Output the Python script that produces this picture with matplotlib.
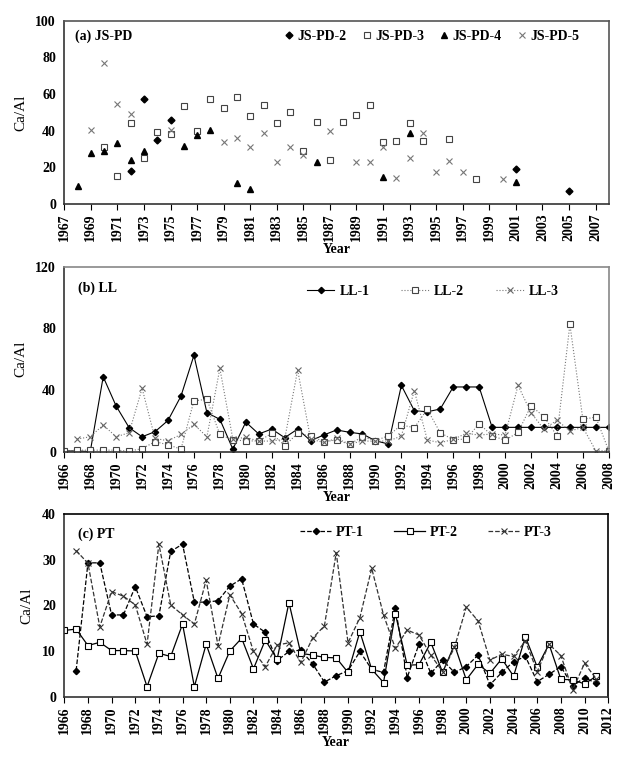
import numpy as np
import matplotlib
matplotlib.use("Agg")
import matplotlib.pyplot as plt

plt.rcParams['font.family'] = ['Liberation Serif', 'DejaVu Serif']
plt.rcParams['font.size'] = 10

nan = np.nan

# (a) JS-PD scatter series
pd2_years = [1972, 1973, 1974, 1975, 2001, 2005]
pd2_vals = [18, 57.3, 34.7, 45.6, 19, 7.3]

pd3_years = [1970, 1971, 1972, 1973, 1974, 1975, 1976, 1977, 1978, 1979,
             1980, 1981, 1982, 1983, 1984, 1985, 1986, 1987, 1988, 1989,
             1990, 1991, 1992, 1993, 1994, 1996, 1998]
pd3_vals = [31.3, 15.5, 44.4, 25.1, 39.5, 38.2, 53.6, 40, 57.3, 52.2,
            58.5, 48.2, 54.2, 44.4, 50.4, 28.7, 44.9, 23.8, 44.5, 48.4,
            54.2, 33.6, 34.2, 44.2, 34.4, 35.6, 13.5]

pd4_years = [1968, 1969, 1970, 1971, 1972, 1973, 1976, 1977, 1978, 1980,
             1981, 1986, 1991, 1993, 2001]
pd4_vals = [10, 27.6, 29.1, 33.3, 23.8, 28.7, 31.5, 37.5, 40.2, 11.6,
            8.2, 22.9, 14.5, 38.9, 12.2]

pd5_years = [1969, 1970, 1971, 1972, 1975, 1979, 1980, 1981, 1982, 1983,
             1984, 1985, 1987, 1989, 1990, 1991, 1992, 1993, 1994, 1995,
             1996, 1997, 2000]
pd5_vals = [40.4, 76.7, 54.5, 48.9, 40.4, 34, 36, 31.3, 38.9, 22.9,
            31.3, 26.7, 39.6, 22.9, 22.9, 31.3, 14.2, 25.3, 38.9, 17.3,
            23.3, 17.6, 13.8]

# (b) LL series, 1966-2008
ll_years = list(range(1966, 2009))
ll1 = [0.5, 0.5, 0, 48.6, 29.6, 15.6, 9.7, 13, 20.3, 36.1,
       62.5, 25.3, 21, 1.7, 19.2, 11.5, 14.7, 9.1, 14.7, 7.1,
       10.8, 14.1, 12.6, 11.5, 7.1, 5, 43, 26.6, 25.9, 27.7,
       42, 42, 42, 15.8, 15.8, 15.8, 15.8, 15.8, 15.8, 15.8,
       15.8, 15.8, 15.8]
ll2 = [0.5, 1, 1, 1, 1, 0.4, 2, 6.5, 4.5, 1.7,
       33, 34, 11.2, 7.6, 7.1, 6.9, 11.9, 3.9, 11.9, 10.4,
       6.5, 7.6, 4.8, 9.7, 7.1, 10.4, 17.3, 15.6, 27.5, 12.3,
       7.8, 8.2, 18.2, 10.4, 7.4, 12.5, 29.8, 22.7, 10.4, 82.6,
       21, 22.5, 0.6]
ll3 = [nan, 8.2, 9.7, 17.3, 9.7, 12.3, 41.1, 8.6, 7.1, 11.2,
       17.7, 9.7, 54, 8.2, 9.3, 6.9, 6.9, 8.2, 53, 8.2,
       6, 8.6, 5, 6.9, 6.9, 6.9, 10.2, 39.6, 7.6, 5.8,
       8, 11.9, 10.8, 11.5, 10.8, 43, 25.3, 14.5, 20.5, 13.4,
       15.8, 0.6, 0.6]

# (c) PT series, 1966-2011
pt_years = list(range(1966, 2012))
pt1 = [nan, 5.7, 29.3, 29.3, 17.9, 17.9, 24.1, 17.5, 17.7, 31.8,
       33.4, 20.7, 20.7, 21, 24.2, 25.8, 15.9, 14.1, 7.9, 9.9,
       10.2, 7.2, 3.2, 4.6, 5.7, 9.9, 6, 5.3, 19.5, 4.2,
       11.5, 5.1, 8, 5.3, 6.6, 9.1, 2.6, 5.3, 7.7, 8.8,
       3.3, 4.9, 6.6, 2.3, 4.2, 2.9]
pt2 = [14.5, 14.8, 11.2, 11.9, 10.1, 10.1, 10, 2.2, 9.5, 8.8,
       15.9, 2.2, 11.5, 4, 10, 12.8, 6.1, 12.4, 8.2, 20.6,
       9.5, 9.1, 8.6, 8.5, 5.3, 14.2, 6, 3.1, 18.2, 6.9,
       7, 11.9, 5.3, 11.4, 3.7, 7.1, 5.1, 8.3, 4.5, 13.1,
       6.5, 11.5, 3.8, 3.7, 2.8, 4.5]
pt3 = [nan, 32, 29.2, 15.3, 23, 22, 20.1, 11.5, 33.4, 20.1,
       17.9, 15.9, 25.5, 11.2, 22.3, 18.2, 9.9, 6.6, 11.3, 11.8,
       7.5, 12.8, 15.5, 31.5, 11.8, 17.3, 28.1, 17.9, 10.6, 14.6,
       13.5, 9.1, 5.5, 10.8, 19.6, 16.6, 8, 9.3, 8.8, 12.2,
       5.5, 11.5, 9, 1.5, 7.3, 3.9]


def style_axes(ax, xlim, xticks, ylim, yticks, spine_color):
    ax.set_xlim(*xlim)
    ax.set_ylim(*ylim)
    ax.set_xticks(xticks)
    ax.set_xticklabels([str(t) for t in xticks], rotation=90,
                       fontweight='bold', fontsize=10)
    ax.set_yticks(yticks)
    ax.set_yticklabels([str(t) for t in yticks], fontweight='bold', fontsize=10)
    ax.tick_params(axis='x', direction='out', length=4, width=0.8, pad=3)
    ax.tick_params(axis='y', direction='out', length=0, pad=6)
    for s in ax.spines.values():
        s.set_color(spine_color)
        s.set_linewidth(1.2)
    ax.spines['left'].set_color('#333333')
    ax.spines['bottom'].set_color('#333333')
    ax.set_ylabel('Ca/Al', fontsize=11, labelpad=6)
    ax.set_xlabel('Year', fontsize=10, fontweight='bold', labelpad=1)


def add_legend(ax, ncol, anchor, handlelength, colspacing):
    ax.legend(loc='upper left', bbox_to_anchor=anchor, borderaxespad=0,
              ncol=ncol, frameon=False, handlelength=handlelength,
              handletextpad=0.35, columnspacing=colspacing,
              prop={'weight': 'bold', 'size': 10})


fig = plt.figure(figsize=(6.28, 7.62), dpi=100)
left, width = 0.1024, 0.867

# ---- (a) JS-PD ----
ax1 = fig.add_axes([left, 0.7323, width, 0.2406])
ax1.plot(pd2_years, pd2_vals, linestyle='none', marker='D', ms=3.5,
         color='black', label='JS-PD-2')
ax1.plot(pd3_years, pd3_vals, linestyle='none', marker='s', ms=5,
         mfc='white', mec='#444444', mew=0.8, label='JS-PD-3')
ax1.plot(pd4_years, pd4_vals, linestyle='none', marker='^', ms=5,
         color='black', label='JS-PD-4')
ax1.plot(pd5_years, pd5_vals, linestyle='none', marker='x', ms=5,
         color='#777777', mew=0.8, label='JS-PD-5')
style_axes(ax1, (1967, 2008), list(range(1967, 2008, 2)), (0, 100),
           [0, 20, 40, 60, 80, 100], '#555555')
ax1.text(0.02, 0.915, '(a) JS-PD', transform=ax1.transAxes, fontsize=10,
         fontweight='bold', va='center')
add_legend(ax1, 4, (0.396, 0.98), 0.5, 1.2)

# ---- (b) LL ----
ax2 = fig.add_axes([left, 0.4072, width, 0.2428])
ax2.plot(ll_years, ll1, color='black', lw=0.8, marker='D', ms=3.2,
         label='LL-1')
ax2.plot(ll_years, ll2, color='#777777', lw=0.8, linestyle=':', marker='s',
         ms=5, mfc='white', mec='#444444', mew=0.8, label='LL-2')
ax2.plot(ll_years, ll3, color='#777777', lw=0.8, linestyle=':', marker='x',
         ms=5, mec='#666666', mew=0.8, label='LL-3')
style_axes(ax2, (1966, 2008), list(range(1966, 2009, 2)), (0, 120),
           [0, 40, 80, 120], '#888888')
ax2.text(0.025, 0.885, '(b) LL', transform=ax2.transAxes, fontsize=10,
         fontweight='bold', va='center')
add_legend(ax2, 3, (0.435, 0.933), 2.0, 2.3)

# ---- (c) PT ----
ax3 = fig.add_axes([left, 0.0857, 0.866, 0.2398])
ax3.plot(pt_years, pt1, color='black', lw=0.9, linestyle='--', marker='D',
         ms=3.2, label='PT-1')
ax3.plot(pt_years, pt2, color='black', lw=0.9, marker='s', ms=5,
         mfc='white', mec='black', mew=0.8, label='PT-2')
ax3.plot(pt_years, pt3, color='#333333', lw=0.9, linestyle='--', marker='x',
         ms=5, mew=0.8, label='PT-3')
style_axes(ax3, (1966, 2012), list(range(1966, 2013, 2)), (0, 40),
           [0, 10, 20, 30, 40], 'black')
ax3.text(0.025, 0.89, '(c) PT', transform=ax3.transAxes, fontsize=10,
         fontweight='bold', va='center')
add_legend(ax3, 3, (0.424, 0.965), 2.2, 2.2)

fig.savefig('out.png', dpi=100)
